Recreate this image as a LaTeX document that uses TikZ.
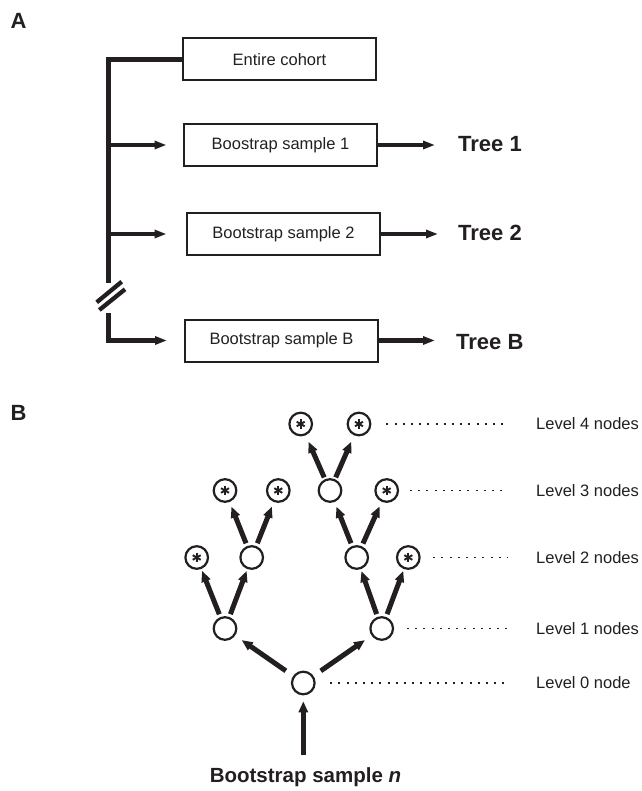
\documentclass[tikz,border=0pt]{standalone}
\usepackage{fontspec}
\setmainfont{Liberation Sans}
\usetikzlibrary{arrows.meta}
\definecolor{ink}{RGB}{35,31,32}
\begin{document}
\begin{tikzpicture}[x=1pt,y=-1pt, color=ink,
  box/.style={draw, line width=2pt, minimum width=193pt, minimum height=42pt, inner sep=0pt, font=\fontsize{16.5}{18}\selectfont},
  thk/.style={line width=4.3pt, line join=miter},
  arrA/.style={thk, -{Triangle[length=12pt,width=8pt]}},
  circ/.style={circle, draw, line width=2.2pt, minimum size=22.6pt, inner sep=0pt, outer sep=0pt},
  starc/.style={circ, path picture={
      \foreach \a in {90,30,150}
        \draw[line width=1.9pt] (path picture bounding box.center) ++(\a:4.6pt) -- ++(\a+180:9.2pt);}},
  arrT/.style={line width=5pt, -{Triangle[length=11pt,width=9pt]}},
  dotl/.style={line width=1.3pt, dash pattern=on 2pt off 6.2pt},
  lvl/.style={anchor=west, inner sep=0pt, font=\fontsize{16.5}{18}\selectfont},
  big/.style={font=\fontsize{22}{24}\selectfont\bfseries, inner sep=0pt},
]
\useasboundingbox (0,0) rectangle (641,791);

% ---------- Panel A ----------
\node[big, anchor=base] (pa) at (18.5,28.3) {A};

\node[box] (coh) at (279.5,59.5) {Entire cohort};
\node[box] (s1) at (280.5,145) {Boostrap sample 1};
\node[box] (s2) at (283.5,234) {Bootstrap sample 2};
\node[box] (sB) at (281.5,340.5) {Bootstrap sample B};

\node[big, anchor=base west] (t1) at (458,152) {Tree 1};
\node[big, anchor=base west] (t2) at (458,241) {Tree 2};
\node[big, anchor=base west] (tB) at (456,349) {Tree B};

\coordinate (ttop) at (108.5,59.5);
\coordinate (brkA) at (108.5,283);
\coordinate (brkB) at (108.5,313);
\coordinate (j1) at (108.5,145);
\coordinate (j2) at (108.5,234);
\coordinate (e1) at (435,145);
\coordinate (e2) at (438,234);
\coordinate (eB) at (435,340.5);

\draw[thk] (coh.west) -- (ttop) -- (brkA);
\draw[arrA] (brkB) |- ([xshift=-17pt]sB.west);
\draw[arrA] (j1) -- ([xshift=-16.5pt]s1.west);
\draw[arrA] (j2) -- ([xshift=-19.5pt]s2.west);
\draw[arrA] (s1.east) -- (e1);
\draw[arrA] (s2.east) -- (e2);
\draw[arrA] (sB.east) -- (eB);

% break marks
\draw[line width=4.3pt] (96.7,302.3) -- (121.7,281.7);
\draw[line width=4.3pt] (99.3,310) -- (125,289.3);

% ---------- Panel B ----------
\node[big, anchor=base] (pb) at (18.5,420) {B};

\node[circ]  (n0)  at (303.3,683) {};
\node[circ]  (n1a) at (225,628.5) {};
\node[circ]  (n1b) at (381.7,628.5) {};
\node[starc] (n2a) at (196.7,557.5) {};
\node[circ]  (n2b) at (251.7,557.5) {};
\node[circ]  (n2c) at (356.7,557.5) {};
\node[starc] (n2d) at (408.3,557.5) {};
\node[starc] (n3a) at (225,490.5) {};
\node[starc] (n3b) at (278.3,490.5) {};
\node[circ]  (n3c) at (330,490.5) {};
\node[starc] (n3d) at (386.7,490.5) {};
\node[starc] (n4a) at (300.7,424) {};
\node[starc] (n4b) at (359,424) {};

\draw[arrT, shorten <=10pt, shorten >=9pt] (n0) -- (n1a);
\draw[arrT, shorten <=10pt, shorten >=9pt] (n0) -- (n1b);
\draw[arrT, shorten <=4pt, shorten >=3pt] (n1a) -- (n2a);
\draw[arrT, shorten <=4pt, shorten >=3pt] (n1a) -- (n2b);
\draw[arrT, shorten <=4pt, shorten >=3pt] (n1b) -- (n2c);
\draw[arrT, shorten <=4pt, shorten >=3pt] (n1b) -- (n2d);
\draw[arrT, shorten <=4pt, shorten >=6pt] (n2b) -- (n3a);
\draw[arrT, shorten <=4pt, shorten >=6pt] (n2b) -- (n3b);
\draw[arrT, shorten <=4pt, shorten >=6pt] (n2c) -- (n3c);
\draw[arrT, shorten <=4pt, shorten >=6pt] (n2c) -- (n3d);
\draw[arrT, shorten <=3pt, shorten >=8pt] (n3c) -- (n4a);
\draw[arrT, shorten <=3pt, shorten >=8pt] (n3c) -- (n4b);

\node[font=\fontsize{20.5}{22}\selectfont\bfseries, anchor=base, inner sep=0pt] (bsn) at (305.5,782) {Bootstrap sample \textit{n}};
\coordinate (bs) at (303.3,755);
\draw[arrT, shorten >=7pt] (bs) -- (n0);

\node[lvl] (l4) at (536,424) {Level 4 nodes};
\node[lvl] (l3) at (536,490.5) {Level 3 nodes};
\node[lvl] (l2) at (536,557.5) {Level 2 nodes};
\node[lvl] (l1) at (536,628.5) {Level 1 nodes};
\node[lvl] (l0) at (536,683) {Level 0 node};

\draw[dotl, shorten <=16pt, shorten >=28pt] (n4b.east) -- (l4.west);
\draw[dotl, shorten <=12pt, shorten >=28pt] (n3d.east) -- (l3.west);
\draw[dotl, shorten <=13.5pt, shorten >=28pt] (n2d.east) -- (l2.west);
\draw[dotl, shorten <=14pt, shorten >=24pt] (n1b.east) -- (l1.west);
\draw[dotl, shorten <=15.5pt, shorten >=28pt] (n0.east) -- (l0.west);
\end{tikzpicture}
\end{document}
